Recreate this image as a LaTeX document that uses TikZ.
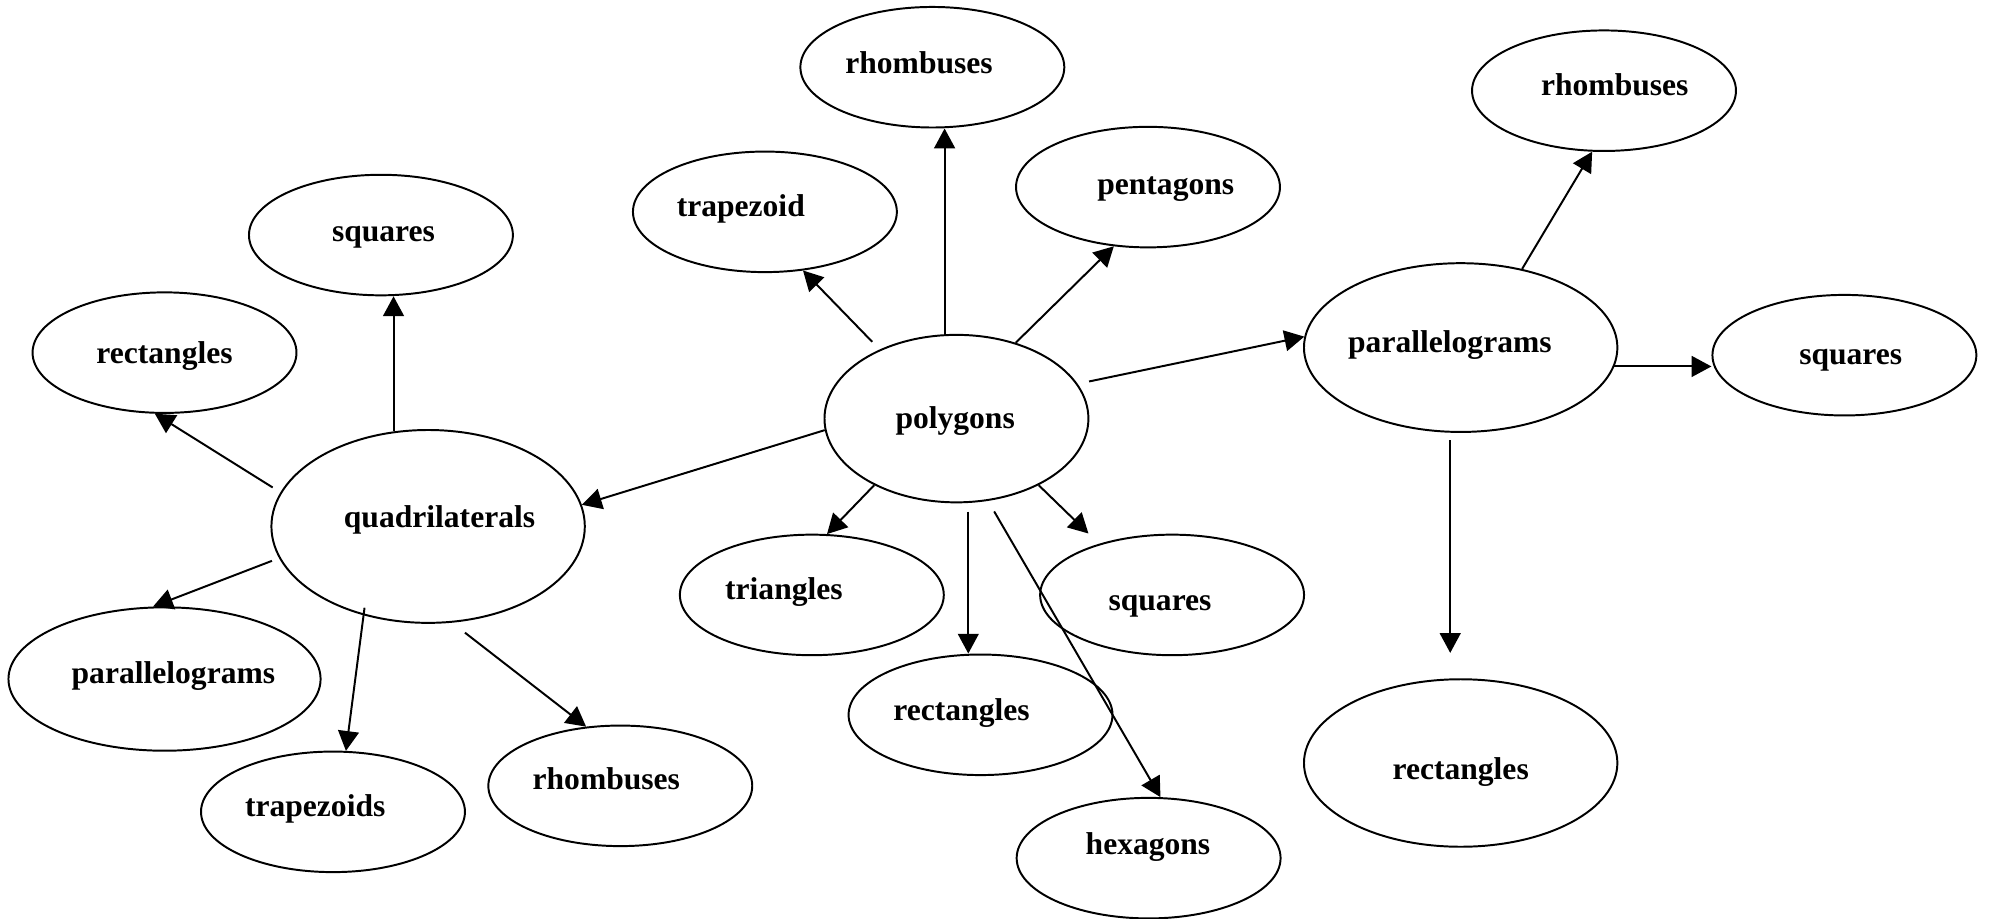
\documentclass[tikz,border=0pt]{standalone}
\usepackage{fontspec}
\setmainfont{Liberation Serif}
\usetikzlibrary{shapes.geometric, arrows.meta}

\begin{document}
\begin{tikzpicture}[x=0.025cm, y=-0.025cm,
		oval/.style={draw, ellipse, line width=1.1pt, inner sep=0pt, minimum width=5.2cm, minimum height=2.375cm},
		lbl/.style={font=\fontsize{17.7}{20}\selectfont\bfseries, inner sep=0pt, text height=14.8pt, text depth=3.9pt},
		arr/.style={line width=1.1pt, -{Triangle[length=0.39cm, width=0.41cm]}}]
		\useasboundingbox (0,0) rectangle (1568,724);

		% 楕円ノードを描画
		\node[oval, minimum height=3.3cm, label={[lbl, shift={(-1,0)}]center:polygons}] (pol) at (754,330) {};
		\node[oval, label={[lbl, shift={(-10.5,-3)}]center:rhombuses}] (rhT) at (735,53) {};
		\node[oval, label={[lbl, shift={(-19,-4)}]center:trapezoid}] (trap) at (603,167) {};
		\node[oval, label={[lbl, shift={(14,-2)}]center:pentagons}] (pent) at (905,147.5) {};
		\node[oval, label={[lbl, shift={(-22,-4)}]center:triangles}] (tri) at (640,469) {};
		\node[oval, label={[lbl, shift={(-15,-3.5)}]center:rectangles}] (recM) at (773,563.5) {};
		\node[oval, label={[lbl, shift={(-9.5,5)}]center:squares}] (sqM) at (924,469) {};
		\node[oval, label={[lbl, shift={(-0.5,-10.5)}]center:hexagons}] (hex) at (905.5,676.5) {};

		\node[oval, minimum width=6.175cm, minimum height=3.8cm, label={[lbl, shift={(9,-6.5)}]center:quadrilaterals}] (quad) at (337.5,415) {};
		\node[oval, label={[lbl, shift={(2,-2.5)}]center:squares}] (sqL) at (300.3,185.3) {};
		\node[oval, label={[lbl, shift={(0,0.5)}]center:rectangles}] (recL) at (129.7,278) {};
		\node[oval, minimum width=6.15cm, minimum height=2.825cm, label={[lbl, shift={(7,-4.5)}]center:parallelograms}] (parL) at (129.7,535.3) {};
		\node[oval, label={[lbl, shift={(-14,-4)}]center:trapezoids}] (trapz) at (262.5,640) {};
		\node[oval, label={[lbl, shift={(-11,-5)}]center:rhombuses}] (rhB) at (489,619.5) {};

		\node[oval, minimum width=6.175cm, minimum height=3.325cm, label={[lbl, shift={(-8.5,-4)}]center:parallelograms}] (parR) at (1151.5,274) {};
		\node[oval, label={[lbl, shift={(8.5,-3.5)}]center:rhombuses}] (rhR) at (1264.5,71.5) {};
		\node[oval, label={[lbl, shift={(5,0)}]center:squares}] (sqR) at (1454,280) {};
		\node[oval, minimum width=6.175cm, minimum height=3.3cm, label={[lbl, shift={(0,5.5)}]center:rectangles}] (recR) at (1151.5,601.5) {};

		% 矢印を描画
		\draw[arr] (pol.98) -- (pol.98 |- rhT.south);
		\draw[arr, shorten <=0.21cm] (pol.138) -- (trap.303);
		\draw[arr] (pol.52) -- (pent.240);
		\draw[arr, shorten <=0.23cm] (pol.16) -- (parR.176);
		\draw[arr] (pol.185) -- (quad.8);
		\draw[arr] (pol.219) -- (tri.76);
		\draw[arr, shorten <=0.17cm] (pol.278) -- (pol.278 |- recM.north);
		\draw[arr, shorten >=0.29cm] (pol.321) -- (sqM.145);
		\draw[arr, shorten <=0.24cm] (pol.291) -- (hex.79);

		\draw[arr] (quad.110) -- (quad.110 |- sqL.south);
		\draw[arr, shorten <=0.18cm] (quad.167) -- (recL.261);
		\draw[arr, shorten <=0.15cm] (quad.192) -- (parL.99);
		\draw[arr, shorten <=-0.15cm] (quad.234) -- (trapz.78);
		\draw[arr, shorten <=0.32cm] (quad.284) -- (rhB.120);

		\draw[arr] (parR.52) -- (rhR.259);
		\draw[arr] (parR.353) -- (parR.353 -| sqR.west);
		\draw[arr, shorten <=0.15cm, shorten >=0.5cm] (parR.263) -- (parR.263 |- recR.north);
	\end{tikzpicture}
\end{document}
